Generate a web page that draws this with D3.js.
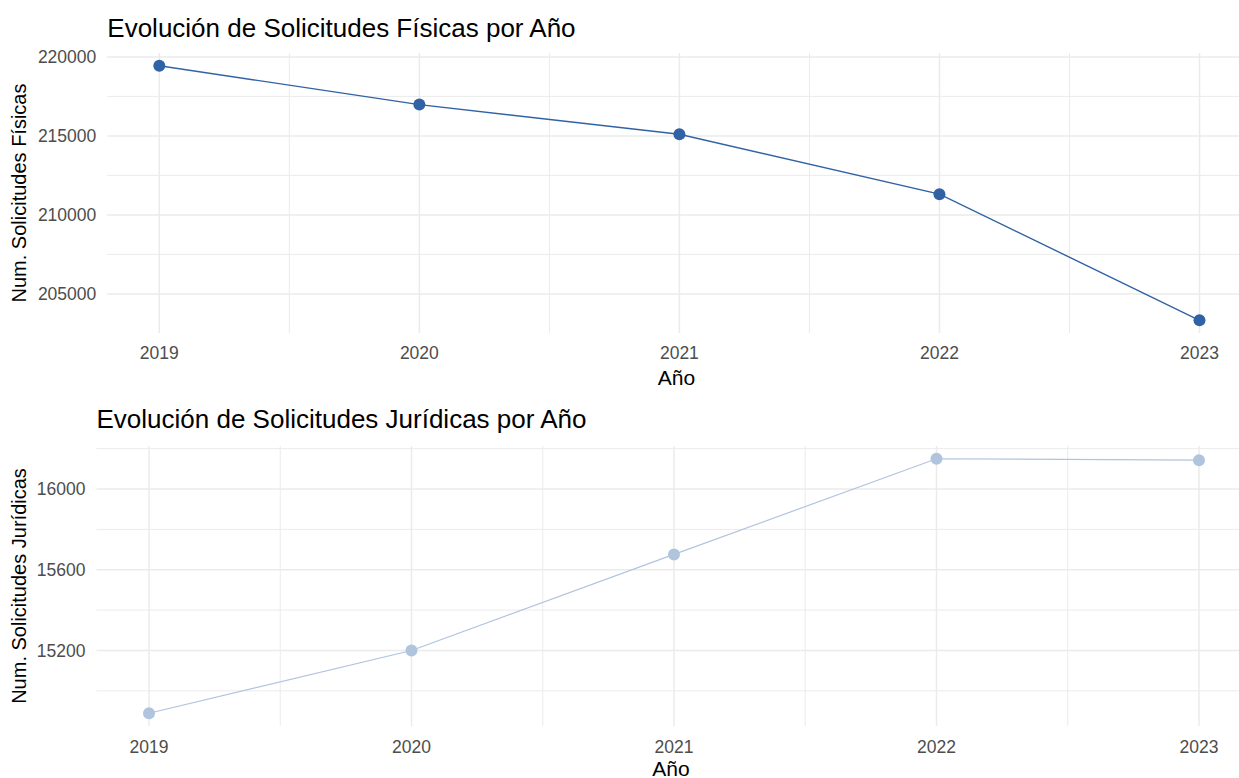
<!DOCTYPE html>
<html>
<head>
<meta charset="utf-8">
<script src="https://cdn.jsdelivr.net/npm/d3@7"></script>
<style>
  html, body { margin: 0; padding: 0; background: #fff; }
  svg { display: block; font-family: "Liberation Sans", Arial, sans-serif; }
</style>
</head>
<body>
<svg id="chart" width="1239" height="778"></svg>
<script>
// ---- data ----
const years = [2019, 2020, 2021, 2022, 2023];
const fisicas = [219440, 216980, 215100, 211310, 203330];
const juridicas = [14889, 15200, 15676, 16150, 16143];
const fisicasTicks = [205000, 210000, 215000, 220000];
const juridicasTicks = [15200, 15600, 16000];
const titles = ["Evolución de Solicitudes Físicas por Año", "Evolución de Solicitudes Jurídicas por Año"];
const yTitles = ["Num. Solicitudes Físicas", "Num. Solicitudes Jurídicas"];
const xTitle = "Año";

const svg = d3.select("#chart");

const panels = [
  { values: fisicas, ticks: fisicasTicks, minorStep: 2500, title: titles[0], yTitle: yTitles[0],
    left: 107.3, right: 1251.5, top: 53, bottom: 333, color: "#3162a5", lw: 1.4,
    titleY: 36.7, tickY: 359.3, xTitleY: 385 },
  { values: juridicas, ticks: juridicasTicks, minorStep: 200, title: titles[1], yTitle: yTitles[1],
    left: 96.5, right: 1251.5, top: 446, bottom: 726, color: "#b0c4de", lw: 1.2,
    titleY: 428.3, tickY: 752.7, xTitleY: 775.5 }
];

panels.forEach(p => {
  const data = years.map((y, i) => ({ year: y, value: p.values[i] }));
  const xExt = d3.extent(years);
  const xPad = (xExt[1] - xExt[0]) * 0.05;
  const x = d3.scaleLinear().domain([xExt[0] - xPad, xExt[1] + xPad]).range([p.left, p.right]);
  const yExt = d3.extent(p.values);
  const yPad = (yExt[1] - yExt[0]) * 0.05;
  const y = d3.scaleLinear().domain([yExt[0] - yPad, yExt[1] + yPad]).range([p.bottom, p.top]);

  const g = svg.append("g");

  // minor grid
  const [d0, d1] = y.domain();
  const minorY = d3.range(Math.ceil(d0 / p.minorStep) * p.minorStep, d1, p.minorStep)
    .filter(v => !p.ticks.includes(v));
  g.selectAll(".minY").data(minorY).join("line")
    .attr("x1", p.left).attr("x2", p.right)
    .attr("y1", d => y(d)).attr("y2", d => y(d))
    .attr("stroke", "#ebebeb").attr("stroke-width", 1);
  const minorX = d3.range(xExt[0] + 0.5, xExt[1], 1);
  g.selectAll(".minX").data(minorX).join("line")
    .attr("x1", d => x(d)).attr("x2", d => x(d))
    .attr("y1", p.top).attr("y2", p.bottom)
    .attr("stroke", "#ebebeb").attr("stroke-width", 1);

  // major grid
  g.selectAll(".majY").data(p.ticks).join("line")
    .attr("x1", p.left).attr("x2", p.right)
    .attr("y1", d => y(d)).attr("y2", d => y(d))
    .attr("stroke", "#ebebeb").attr("stroke-width", 1.5);
  g.selectAll(".majX").data(years).join("line")
    .attr("x1", d => x(d)).attr("x2", d => x(d))
    .attr("y1", p.top).attr("y2", p.bottom)
    .attr("stroke", "#ebebeb").attr("stroke-width", 1.5);

  // y tick labels
  g.selectAll(".yl").data(p.ticks).join("text")
    .attr("x", p.left - 11).attr("y", d => y(d)).attr("dy", "0.36em")
    .attr("text-anchor", "end").attr("font-size", 17.5).attr("fill", "#4d4d4d")
    .text(d => d3.format("d")(d));

  // x tick labels
  g.selectAll(".xl").data(years).join("text")
    .attr("x", d => x(d)).attr("y", p.tickY)
    .attr("text-anchor", "middle").attr("font-size", 17.5).attr("fill", "#4d4d4d")
    .text(d => d);

  // line + points
  const line = d3.line().x(d => x(d.year)).y(d => y(d.value));
  g.append("path").datum(data)
    .attr("d", line).attr("fill", "none")
    .attr("stroke", p.color).attr("stroke-width", p.lw);
  g.selectAll(".pt").data(data).join("circle")
    .attr("cx", d => x(d.year)).attr("cy", d => y(d.value))
    .attr("r", 6).attr("fill", p.color);

  // titles
  g.append("text").attr("x", p.left).attr("y", p.titleY)
    .attr("font-size", 26).attr("fill", "#000").text(p.title);
  g.append("text").attr("x", x(2021) - 3).attr("y", p.xTitleY)
    .attr("text-anchor", "middle").attr("font-size", 21).attr("fill", "#000").text(xTitle);
  const cy = (p.top + p.bottom) / 2;
  g.append("text").attr("transform", `translate(26,${cy}) rotate(-90)`)
    .attr("text-anchor", "middle").attr("font-size", 20).attr("fill", "#000").text(p.yTitle);
});
</script>
</body>
</html>
